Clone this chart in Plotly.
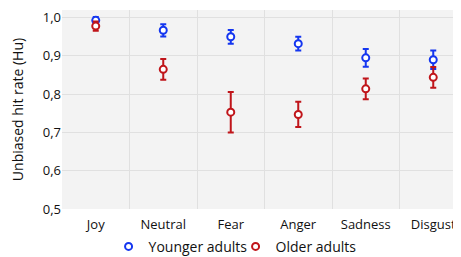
import plotly.graph_objects as go

categories = ["Joy", "Neutral", "Fear", "Anger", "Sadness", "Disgust"]
younger_mean = [0.993, 0.967, 0.950, 0.932, 0.895, 0.890]
younger_err = [0.009, 0.016, 0.018, 0.018, 0.023, 0.024]
older_mean = [0.978, 0.865, 0.753, 0.747, 0.814, 0.844]
older_err = [0.012, 0.027, 0.053, 0.033, 0.027, 0.027]
yticks = [0.5, 0.6, 0.7, 0.8, 0.9, 1.0]

blue = "#1436f0"
red = "#c0151a"
font = "Open Sans"
xpos = list(range(len(categories)))

fig = go.Figure()
fig.add_trace(go.Scatter(
    x=xpos, y=younger_mean, mode="markers", name="Younger adults",
    marker=dict(symbol="circle", size=7, color="white", line=dict(color=blue, width=2)),
    error_y=dict(type="data", array=younger_err, color=blue, thickness=2, width=3),
))
fig.add_trace(go.Scatter(
    x=xpos, y=older_mean, mode="markers", name="Older adults",
    marker=dict(symbol="circle", size=7, color="white", line=dict(color=red, width=2)),
    error_y=dict(type="data", array=older_err, color=red, thickness=2, width=3),
))

fig.update_layout(
    width=461, height=257,
    margin=dict(l=54, r=2, t=2, b=54),
    paper_bgcolor="white", plot_bgcolor="#f3f3f3",
    separators=", ",
    font=dict(family=font, size=13, color="#111111"),
    showlegend=True,
    legend=dict(orientation="h", x=0.115, xanchor="left", y=-0.19, yanchor="middle",
                font=dict(size=14), itemwidth=30, tracegroupgap=0,
                entrywidth=82, entrywidthmode="pixels",
                bgcolor="rgba(0,0,0,0)"),
    xaxis=dict(range=[-0.5, len(categories) - 0.5], tickvals=xpos, ticktext=categories,
               showgrid=False, ticks="outside", ticklen=3,
               tickcolor="rgba(0,0,0,0)", showline=False, zeroline=False,
               minor=dict(tick0=0.5, dtick=1, showgrid=True, gridcolor="#e0e0e0",
                          gridwidth=1, ticks=""),
               automargin=False),
    yaxis=dict(range=[0.5, 1.02], tickvals=yticks, tickformat=".1f", showgrid=True,
               gridcolor="#e0e0e0", gridwidth=1, zeroline=False, ticks="",
               automargin=False,
               title=dict(text="Unbiased hit rate (Hu)", font=dict(size=14), standoff=24)),
)

fig.write_html("out.html")
